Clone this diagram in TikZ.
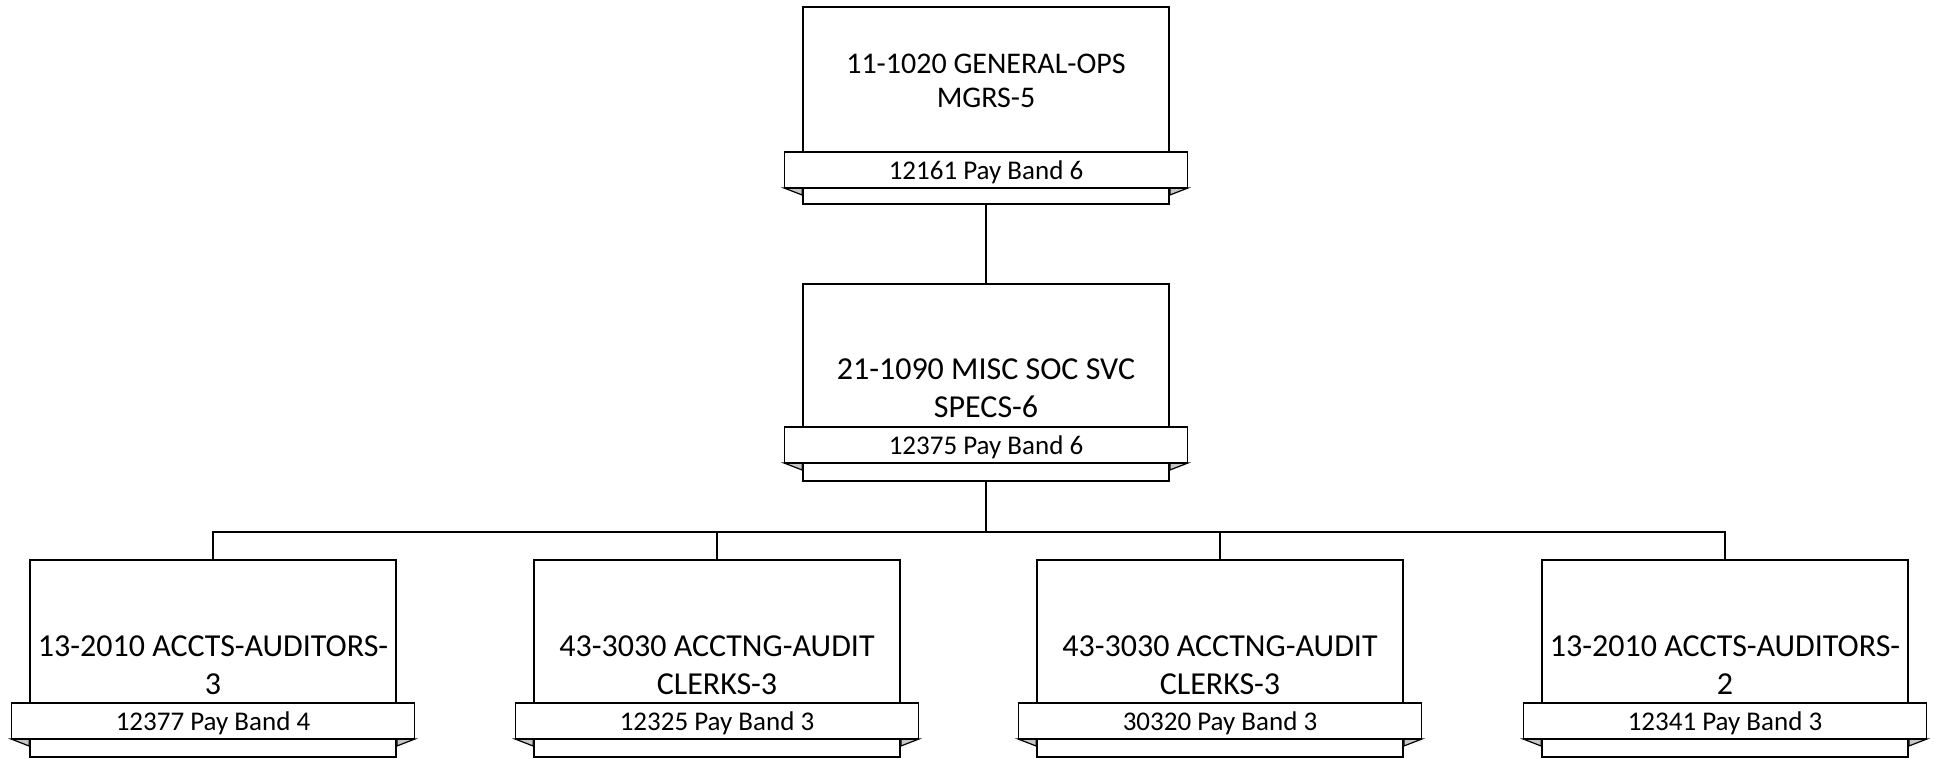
\documentclass[tikz,border=0pt]{standalone}
\usepackage{fontspec}
\setmainfont{Carlito}
\begin{document}
\begin{tikzpicture}[x=1pt, y=-1pt,
    jobbox/.style={draw, line width=1.8pt, minimum width=366pt, minimum height=197pt, inner sep=0pt},
    bandbox/.style={draw, fill=white, line width=1.8pt, minimum width=403pt, minimum height=36pt, inner sep=0pt, text height=18pt, text depth=0pt, font=\fontsize{27}{31}\selectfont},
    jobtext/.style={anchor=south, inner sep=0pt, align=center, font=\fontsize{32}{38}\selectfont},
    fold/.style={draw, line width=1.2pt, fill=black!22},
    link/.style={draw, line width=2.5pt}
    ]
    \useasboundingbox (0, 0) rectangle (1935, 758);

    % top
    \node[jobbox] (ops) at (986, 105.5) {};
    \node[jobtext, font=\fontsize{30}{34}\selectfont] (ops-t) at (986, 108) {11-1020 GENERAL-OPS\\MGRS-5};
    \filldraw[fold] (ops.west |- 0, 188) -- ++(-18, 0) -- ++(18, 7) -- cycle;
    \filldraw[fold] (ops.east |- 0, 188) -- ++(18, 0) -- ++(-18, 7) -- cycle;
    \node[bandbox] (ops-b) at (986, 170) {12161 Pay Band 6};

    % middle
    \node[jobbox] (soc) at (986, 382.5) {};
    \node[jobtext] (soc-t) at (986, 418) {21-1090 MISC SOC SVC\\SPECS-6};
    \filldraw[fold] (soc.west |- 0, 463) -- ++(-18, 0) -- ++(18, 7) -- cycle;
    \filldraw[fold] (soc.east |- 0, 463) -- ++(18, 0) -- ++(-18, 7) -- cycle;
    \node[bandbox] (soc-b) at (986, 445) {12375 Pay Band 6};

    % bottom row
    \node[jobbox] (acct1) at (213, 658.5) {};
    \node[jobtext] (acct1-t) at (213, 695) {13-2010 ACCTS-AUDITORS-\\3};
    \filldraw[fold] (acct1.west |- 0, 739) -- ++(-18, 0) -- ++(18, 7) -- cycle;
    \filldraw[fold] (acct1.east |- 0, 739) -- ++(18, 0) -- ++(-18, 7) -- cycle;
    \node[bandbox] (acct1-b) at (213, 721) {12377 Pay Band 4};

    \node[jobbox] (clerk1) at (717, 658.5) {};
    \node[jobtext] (clerk1-t) at (717, 695) {43-3030 ACCTNG-AUDIT\\CLERKS-3};
    \filldraw[fold] (clerk1.west |- 0, 739) -- ++(-18, 0) -- ++(18, 7) -- cycle;
    \filldraw[fold] (clerk1.east |- 0, 739) -- ++(18, 0) -- ++(-18, 7) -- cycle;
    \node[bandbox] (clerk1-b) at (717, 721) {12325 Pay Band 3};

    \node[jobbox] (clerk2) at (1220, 658.5) {};
    \node[jobtext] (clerk2-t) at (1220, 695) {43-3030 ACCTNG-AUDIT\\CLERKS-3};
    \filldraw[fold] (clerk2.west |- 0, 739) -- ++(-18, 0) -- ++(18, 7) -- cycle;
    \filldraw[fold] (clerk2.east |- 0, 739) -- ++(18, 0) -- ++(-18, 7) -- cycle;
    \node[bandbox] (clerk2-b) at (1220, 721) {30320 Pay Band 3};

    \node[jobbox] (acct2) at (1725, 658.5) {};
    \node[jobtext] (acct2-t) at (1725, 695) {13-2010 ACCTS-AUDITORS-\\2};
    \filldraw[fold] (acct2.west |- 0, 739) -- ++(-18, 0) -- ++(18, 7) -- cycle;
    \filldraw[fold] (acct2.east |- 0, 739) -- ++(18, 0) -- ++(-18, 7) -- cycle;
    \node[bandbox] (acct2-b) at (1725, 721) {12341 Pay Band 3};

    % links
    \path[link] (ops.south) -- (soc.north);
    \coordinate (bus) at (986, 532);
    \path[link] (soc.south) -- (bus);
    \path[link] (bus) -| (acct1.north);
    \path[link] (bus) -| (clerk1.north);
    \path[link] (bus) -| (clerk2.north);
    \path[link] (bus) -| (acct2.north);

\end{tikzpicture}
\end{document}
